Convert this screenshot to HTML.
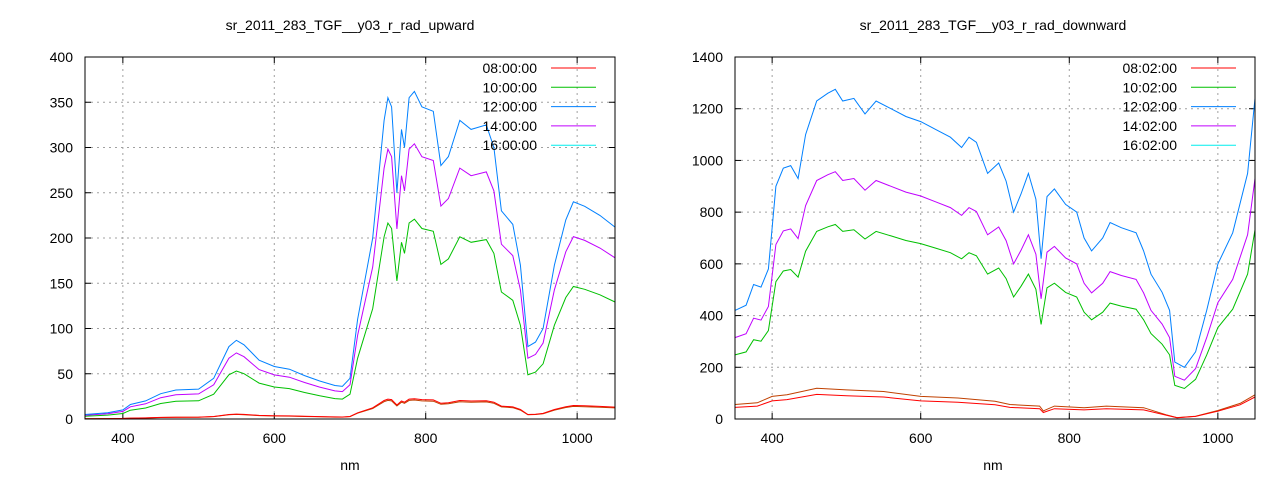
<!DOCTYPE html><html><head><style>body{margin:0;background:#fff}svg{display:block;font-family:"Liberation Sans",sans-serif}</style></head><body>
<svg id="s" width="1280" height="480" xmlns="http://www.w3.org/2000/svg">
<rect width="1280" height="480" fill="#fff"/>
<text x="350" y="30" font-size="14" text-anchor="middle">sr_2011_283_TGF__y03_r_rad_upward</text>
<text x="993" y="30" font-size="14" text-anchor="middle">sr_2011_283_TGF__y03_r_rad_downward</text>
<text x="350" y="470" font-size="14" text-anchor="middle">nm</text>
<text x="993" y="470" font-size="14" text-anchor="middle">nm</text>
<g id="g"></g>
</svg>
<script>
const NS="http://www.w3.org/2000/svg",g=document.getElementById('g');
function el(t,a,txt){const e=document.createElementNS(NS,t);for(const k in a)e.setAttribute(k,a[k]);if(txt!==undefined)e.textContent=txt;g.appendChild(e);return e;}
function plot(L,R,T,B,ymax,ystep,series,labels){
 const X=n=>L+(n-350)*(R-L)/700,Y=v=>B-v*(B-T)/ymax;
 for(let n=400;n<=1000;n+=200){el('line',{x1:X(n),x2:X(n),y1:T,y2:B,stroke:'#a0a0a0','stroke-dasharray':'2,4'});el('line',{x1:X(n),x2:X(n),y1:B,y2:B-6,stroke:'#000'});el('line',{x1:X(n),x2:X(n),y1:T,y2:T+6,stroke:'#000'});el('text',{x:X(n),y:B+24,'font-size':14,'text-anchor':'middle'},n);}
 for(let v=0;v<=ymax;v+=ystep){const y=Y(v);if(v>0&&v<ymax)el('line',{x1:L,x2:R,y1:y,y2:y,stroke:'#a0a0a0','stroke-dasharray':'2,4'});el('line',{x1:L,x2:L+6,y1:y,y2:y,stroke:'#000'});el('line',{x1:R,x2:R-6,y1:y,y2:y,stroke:'#000'});el('text',{x:L-12,y:y+5,'font-size':14,'text-anchor':'end'},v);}
 series.forEach(s=>{el('polyline',{points:s.d.map(p=>X(p[0]).toFixed(1)+','+Y(p[1]).toFixed(1)).join(' '),fill:'none',stroke:s.c,'stroke-width':1});});
 el('rect',{x:L,y:T,width:R-L,height:B-T,fill:'none',stroke:'#000'});
 labels.forEach((t,i)=>{const y=68+i*19.3;el('text',{x:R-78,y:y+5,'font-size':14,'text-anchor':'end'},t[0]);el('line',{x1:R-64,x2:R-19,y1:y,y2:y,stroke:t[1]});});
}
const cols=['#ff0000','#00c000','#0080ff','#c000ff','#00eeee'];
const bu=[[350,5],[380,7],[400,10],[410,16],[430,20],[450,28],[470,32],[500,33],[520,45],[540,80],[550,87],[560,82],[580,65],[600,58],[620,55],[640,48],[660,42],[680,37],[690,36],[700,45],[710,110],[730,200],[745,330],[750,355],[755,345],[762,250],[768,320],[772,300],[778,355],[785,362],[795,345],[810,340],[820,280],[830,290],[845,330],[860,320],[880,325],[890,300],[900,230],[915,215],[925,170],[935,80],[945,85],[955,100],[970,170],[985,220],[995,240],[1010,235],[1030,225],[1050,212]];
const sc=(a,f)=>a.map(p=>[p[0],p[1]*f]);
plot(85,615,57,419,400,50,[
 {c:'#c04000',d:sc(bu,0.058)},{c:'#ff0000',d:sc(bu,0.062)},{c:cols[1],d:sc(bu,0.61)},{c:cols[3],d:sc(bu,0.84)},{c:cols[2],d:bu}],
 [['08:00:00',cols[0]],['10:00:00',cols[1]],['12:00:00',cols[2]],['14:00:00',cols[3]],['16:00:00',cols[4]]]);
const bd=[[350,420],[365,440],[375,520],[385,510],[395,580],[405,900],[415,970],[425,980],[435,930],[445,1100],[460,1230],[475,1260],[485,1275],[495,1230],[510,1240],[525,1180],[540,1230],[560,1200],[580,1170],[600,1150],[620,1120],[640,1090],[655,1050],[665,1090],[675,1070],[690,950],[705,990],[715,920],[725,800],[735,870],[745,950],[755,850],[762,620],[770,860],[780,890],[795,830],[810,800],[820,700],[830,650],[845,700],[855,760],[870,740],[890,720],[900,650],[910,560],[925,490],[935,420],[942,220],[955,200],[970,260],[985,420],[1000,600],[1020,720],[1040,950],[1050,1240]];
const rd=[[350,45],[380,50],[400,70],[420,75],[460,95],[500,90],[550,85],[600,70],[650,65],[700,55],[720,45],[760,40],[765,25],[780,40],[820,35],[850,40],[900,35],[930,15],[945,5],[970,10],[1000,30],[1030,55],[1050,85]];
const od=rd.map(p=>[p[0],p[0]<930?p[1]*1.25:p[1]*1.1]);
plot(735,1255,57,419,1400,200,[
 {c:'#c04000',d:od},{c:'#ff0000',d:rd},{c:cols[1],d:sc(bd,0.59)},{c:cols[3],d:sc(bd,0.75)},{c:cols[2],d:bd}],
 [['08:02:00',cols[0]],['10:02:00',cols[1]],['12:02:00',cols[2]],['14:02:00',cols[3]],['16:02:00',cols[4]]]);
</script></body></html>
